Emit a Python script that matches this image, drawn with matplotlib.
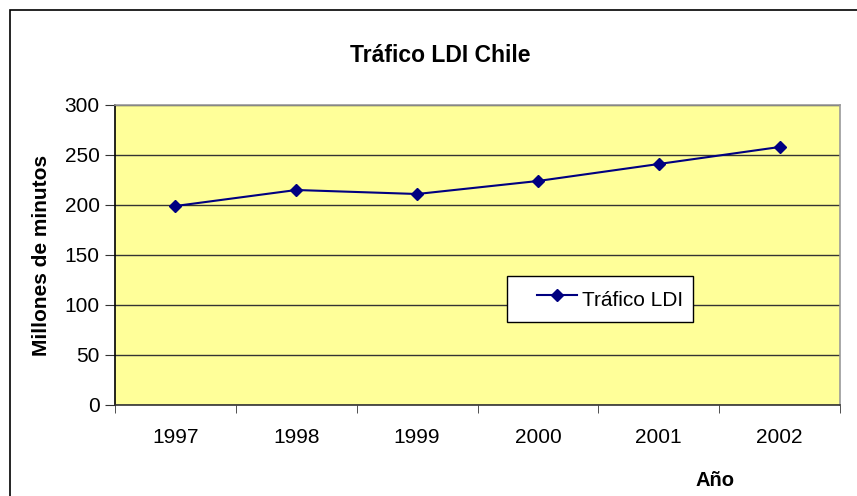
import matplotlib.pyplot as plt
from matplotlib.patches import Rectangle
from matplotlib.lines import Line2D
from matplotlib.legend_handler import HandlerLine2D

years = ['1997', '1998', '1999', '2000', '2001', '2002']
trafico = [199, 215, 211, 224, 241, 258]

plt.rcParams['font.family'] = ['Liberation Sans', 'DejaVu Sans']


# legend handle with extra blank space on its left, like the original box
class PaddedLine(HandlerLine2D):
    def create_artists(self, legend, orig_handle, xdescent, ydescent,
                       width, height, fontsize, trans):
        pad = 1.0 * fontsize
        return super().create_artists(legend, orig_handle, xdescent - pad,
                                      ydescent, width - pad, height,
                                      fontsize, trans)


fig = plt.figure(figsize=(8.57, 4.96), dpi=100)
# outer chart frame (cut off on the right and bottom)
fig.patches.append(Rectangle((10 / 857, -0.1), 1.0, (486 / 496) + 0.1,
                             transform=fig.transFigure, fill=False,
                             edgecolor='black', linewidth=1.2))

ax = fig.add_axes([115 / 857, 91 / 496, 725 / 857, 300 / 496])
ax.set_facecolor('#FFFF99')

x = list(range(len(years)))
ax.plot(x, trafico, color='#000080', linewidth=1.5, marker='D',
        markersize=6.5, markerfacecolor='#000080', markeredgecolor='#000080',
        label='Tráfico LDI', zorder=3)

ax.set_xlim(-0.5, len(years) - 0.5)
ax.set_ylim(0, 300)
ax.set_yticks(range(0, 301, 50))
ax.yaxis.grid(True, color='#333333', linewidth=1)
ax.set_axisbelow(True)

ax.set_xticks(x)
ax.set_xticklabels(years)
ax.set_xticks([i - 0.5 for i in range(len(years) + 1)], minor=True)
ax.tick_params(axis='x', which='major', length=0, pad=16.5, labelsize=15)
ax.tick_params(axis='x', which='minor', length=6, direction='out', color='#333333')
ax.tick_params(axis='y', length=7, direction='out', pad=4, labelsize=15, color='#333333')

ax.spines['left'].set_color('black')
ax.spines['bottom'].set_color('#333333')
ax.spines['top'].set_color('#999999')
ax.spines['right'].set_color('#999999')
for s in ax.spines.values():
    s.set_linewidth(1.2)

ax.set_ylabel('Millones de minutos', fontsize=15, fontweight='bold', labelpad=10)
fig.text(440 / 857, 1 - 55 / 496, 'Tráfico LDI Chile', ha='center', va='center',
         fontsize=16.5, fontweight='bold')
fig.text(715 / 857, 1 - 480 / 496, 'Año', ha='center', va='center',
         fontsize=14.5, fontweight='bold')

leg = ax.legend(loc='upper left', bbox_to_anchor=((507 - 115) / 725, (405 - 276) / 300),
                frameon=True, fancybox=False, edgecolor='black', framealpha=1,
                fontsize=15, handlelength=2.9, handletextpad=0.25,
                handleheight=1.6, borderpad=0.45, borderaxespad=0,
                handler_map={Line2D: PaddedLine()})
leg.get_frame().set_linewidth(1)

fig.savefig('out.png', dpi=100)
